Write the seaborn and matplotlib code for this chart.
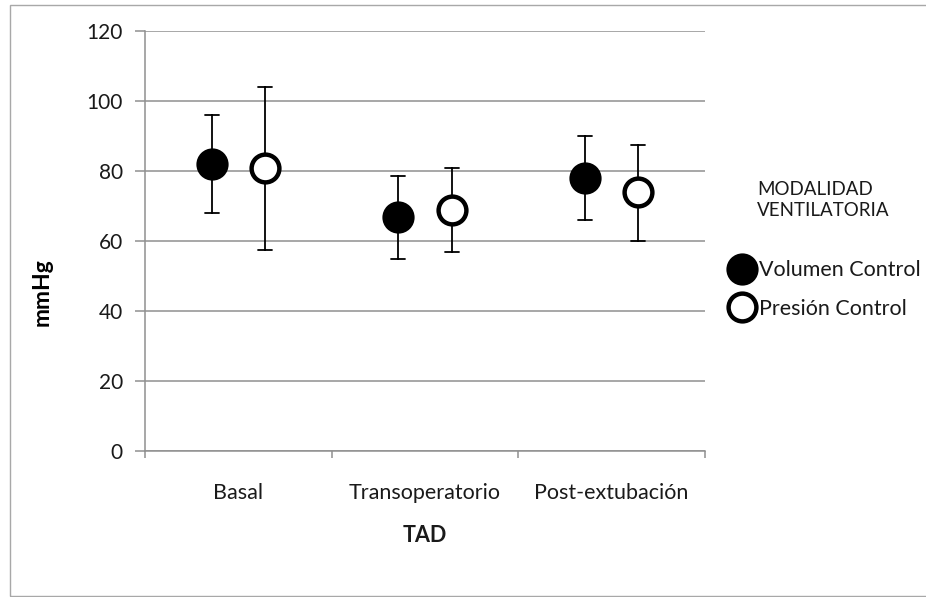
import numpy as np
import pandas as pd
import matplotlib
matplotlib.use("Agg")
import matplotlib.pyplot as plt
from matplotlib.lines import Line2D
from matplotlib.patches import Rectangle
import seaborn as sns

# ---- data ----
categories = ["Basal", "Transoperatorio", "Post-extubación"]
series = ["Volumen Control", "Presión Control"]
vc_mean = [82, 67, 78]
vc_low = [68, 55, 66]
vc_high = [96, 78.5, 90]
pc_mean = [81, 69, 74]
pc_low = [57.5, 57, 60]
pc_high = [104, 81, 87.5]
y_ticks = [0, 20, 40, 60, 80, 100, 120]

rows = []
for name, lo, mid, hi in [(series[0], vc_low, vc_mean, vc_high),
                          (series[1], pc_low, pc_mean, pc_high)]:
    for cat, a, b, c in zip(categories, lo, mid, hi):
        for v in (a, b, c):
            rows.append({"TAD": cat, "mmHg": v, "Modalidad": name})
df = pd.DataFrame(rows)

sns.set_theme(style="white")
FONT = ["Lato", "DejaVu Sans"]
plt.rcParams["font.family"] = FONT
TXT = "#1a1a1a"
GRID = "#8f8f8f"

fig = plt.figure(figsize=(9.26, 5.97), dpi=100)
W, H = 926, 597
ax = fig.add_axes([145 / W, 1 - 451 / H, 560 / W, 420 / H])

sns.pointplot(
    data=df, x="TAD", y="mmHg", hue="Modalidad",
    order=categories, hue_order=series,
    estimator="median", errorbar=lambda v: (np.min(v), np.max(v)),
    dodge=0.285, linestyle="none", markers=["o", "o"],
    palette=["black", "black"], capsize=0.075,
    err_kws={"linewidth": 1.3, "color": "black", "zorder": 2},
    markersize=20, markeredgewidth=3.2, zorder=3,
    legend=False, ax=ax,
)

marker_lines = [l for l in ax.lines if l.get_marker() == "o"]
for l in marker_lines:
    l.set_zorder(3)
    l.set_markeredgecolor("black")
marker_lines[0].set_markerfacecolor("black")
marker_lines[1].set_markerfacecolor("white")

ax.set_xlim(-0.5, 2.5)
ax.set_ylim(0, 120)
ax.set_yticks(y_ticks)
ax.set_yticklabels([str(t) for t in y_ticks])
ax.yaxis.grid(True, color=GRID, linewidth=1.1)
ax.set_axisbelow(True)

for s in ["top", "right"]:
    ax.spines[s].set_visible(False)
for s in ["left", "bottom"]:
    ax.spines[s].set_color(GRID)
    ax.spines[s].set_linewidth(1.1)

ax.tick_params(axis="y", which="major", length=7, width=1.1, color=GRID,
               pad=9, labelsize=15, labelcolor=TXT, left=True)
ax.set_xticks([0, 1, 2])
ax.set_xticklabels(categories)
ax.set_xticks([-0.5, 0.5, 1.5, 2.5], minor=True)
ax.tick_params(axis="x", which="major", length=0, pad=23, labelsize=15.5,
               labelcolor=TXT)
ax.tick_params(axis="x", which="minor", length=5, width=1.1, color=GRID,
               bottom=True)

ax.set_xlabel("TAD", fontsize=15.5, fontweight="bold", color=TXT)
ax.xaxis.label.set_va("center")
ax.xaxis.set_label_coords(0.5, -(535.5 - 451) / 420)
ax.set_ylabel("mmHg", fontsize=16.5, fontweight="bold", color="black")
ax.yaxis.label.set_va("center")
ax.yaxis.set_label_coords((42 - 145) / 560, (451 - 292) / 420)

# legend
fig.text(757 / W, 1 - 200 / H, "MODALIDAD\nVENTILATORIA", fontsize=13.5,
         color=TXT, ha="left", va="center", linespacing=1.25)
handles = [Line2D([], [], linestyle="none", marker="o", markersize=20,
                  markeredgewidth=3.2, markeredgecolor="black",
                  markerfacecolor=fc) for fc in ["black", "white"]]
fig.legend(handles, series, loc="center left",
           bbox_to_anchor=(731 / W, 1 - 289.5 / H), bbox_transform=fig.transFigure,
           frameon=False, fontsize=15.5, handlelength=1.0, handletextpad=0.3,
           labelspacing=0.85, borderpad=0, borderaxespad=0, labelcolor=TXT)

# chart-area border
fig.patches.append(Rectangle((10 / W, 1 - 596 / H), 930 / W, 591 / H,
                             transform=fig.transFigure, fill=False,
                             edgecolor="#a8a8a8", linewidth=1.0))

fig.savefig("out.png", dpi=100)
